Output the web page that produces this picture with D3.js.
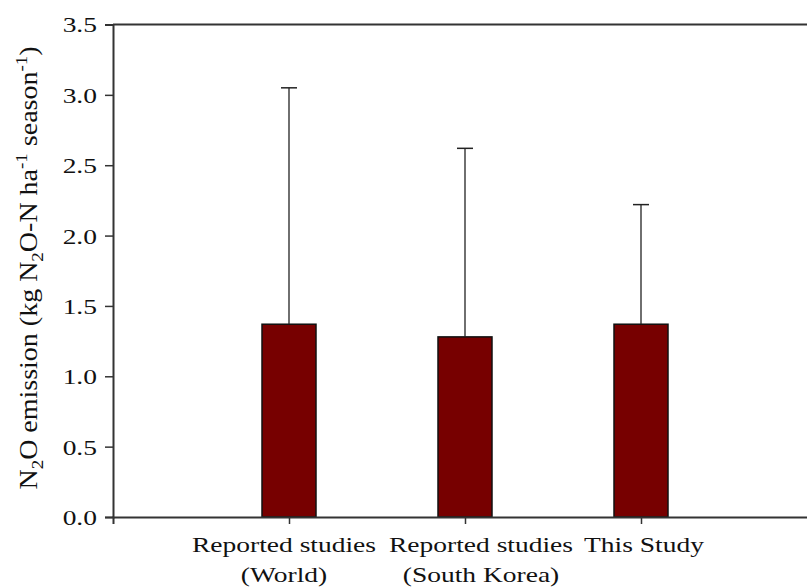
<!DOCTYPE html>
<html>
<head>
<meta charset="utf-8">
<script src="https://cdn.jsdelivr.net/npm/d3@7"></script>
<style>
  body { margin: 0; background: #fff; }
  text { font-family: "Liberation Serif", "Times New Roman", serif; fill: #111; }
</style>
</head>
<body>
<div id="chart"></div>
<script>
var categories = [["Reported studies", "(World)"], ["Reported studies", "(South Korea)"], ["This Study"]];
var means = [1.37, 1.28, 1.37];
var sds = [1.68, 1.34, 0.85];
var yTicks = [0, 0.5, 1.0, 1.5, 2.0, 2.5, 3.0, 3.5];

var W = 807, H = 588;
var mLeft = 113, mTop = 24.5, mBottom = 517, mRight = 817;
var sx = 1.25; // the original figure is stretched sideways
var labelShift = [-5, 16, 3]; // labels sit a bit off their ticks in the original

var svg = d3.select("#chart").append("svg")
  .attr("width", W)
  .attr("height", H);

var x = d3.scaleLinear().domain([0, 4]).range([mLeft, mRight]);
var y = d3.scaleLinear().domain([0, 3.5]).range([mBottom, mTop]);
var barW = 54;

// bars
svg.selectAll("rect.bar")
  .data(means)
  .enter().append("rect")
  .attr("class", "bar")
  .attr("x", function(d, i) { return x(i + 1) - barW / 2; })
  .attr("y", function(d) { return y(d); })
  .attr("width", barW)
  .attr("height", function(d) { return y(0) - y(d); })
  .attr("fill", "#770000")
  .attr("stroke", "#111")
  .attr("stroke-width", 1.5);

// error bars (upper only)
svg.selectAll("line.err")
  .data(means)
  .enter().append("line")
  .attr("class", "err")
  .attr("x1", function(d, i) { return x(i + 1); })
  .attr("x2", function(d, i) { return x(i + 1); })
  .attr("y1", function(d) { return y(d); })
  .attr("y2", function(d, i) { return y(d + sds[i]); })
  .attr("stroke", "#222")
  .attr("stroke-width", 1.3);

svg.selectAll("line.cap")
  .data(means)
  .enter().append("line")
  .attr("class", "cap")
  .attr("x1", function(d, i) { return x(i + 1) - 8; })
  .attr("x2", function(d, i) { return x(i + 1) + 8; })
  .attr("y1", function(d, i) { return y(d + sds[i]); })
  .attr("y2", function(d, i) { return y(d + sds[i]); })
  .attr("stroke", "#222")
  .attr("stroke-width", 1.5);

// y axis
var yAxis = svg.append("g")
  .attr("transform", "translate(" + mLeft + ",0)")
  .call(d3.axisLeft(y).tickValues(yTicks).tickFormat(d3.format(".1f")).tickSize(8));
yAxis.select(".domain").attr("stroke", "#333").attr("stroke-width", 2);
yAxis.selectAll(".tick line").attr("stroke", "#333").attr("stroke-width", 1.5);
yAxis.selectAll(".tick text")
  .attr("x", 0)
  .attr("dy", "0.34em")
  .attr("transform", "translate(-16,0) scale(" + sx + ",1)")
  .style("font-family", "Liberation Serif, serif")
  .style("font-size", "22px")
  .attr("fill", "#111");

// x axis
var xAxis = svg.append("g")
  .attr("transform", "translate(0," + mBottom + ")")
  .call(d3.axisBottom(x).tickValues([1, 2, 3]).tickSize(7).tickFormat(""));
xAxis.select(".domain").attr("stroke", "#333").attr("stroke-width", 2);
xAxis.selectAll(".tick line").attr("stroke", "#333").attr("stroke-width", 1.5);

// top frame line
svg.append("line")
  .attr("x1", mLeft).attr("x2", mRight)
  .attr("y1", y(3.5)).attr("y2", y(3.5))
  .attr("stroke", "#333").attr("stroke-width", 2);

// category labels
categories.forEach(function(lines, i) {
  var t = svg.append("text")
    .attr("transform", "translate(" + (x(i + 1) + labelShift[i]) + ",552) scale(" + sx + ",1)")
    .style("text-anchor", "middle")
    .style("font-size", "22px");
  lines.forEach(function(s, j) {
    t.append("tspan")
      .attr("x", 0)
      .attr("dy", j === 0 ? 0 : 30)
      .text(s);
  });
});

// y axis label
var lab = svg.append("text")
  .attr("transform", "translate(37,268) scale(0.88,1) rotate(-90)")
  .style("text-anchor", "middle")
  .style("font-size", "28px");
lab.append("tspan").text("N");
lab.append("tspan").attr("dy", 7).style("font-size", "19px").text("2");
lab.append("tspan").attr("dy", -7).text("O emission (kg N");
lab.append("tspan").attr("dy", 7).style("font-size", "19px").text("2");
lab.append("tspan").attr("dy", -7).text("O-N ha");
lab.append("tspan").attr("dy", -11).style("font-size", "19px").text("-1");
lab.append("tspan").attr("dy", 11).text(" season");
lab.append("tspan").attr("dy", -11).style("font-size", "19px").text("-1");
lab.append("tspan").attr("dy", 11).text(")");
</script>
</body>
</html>
